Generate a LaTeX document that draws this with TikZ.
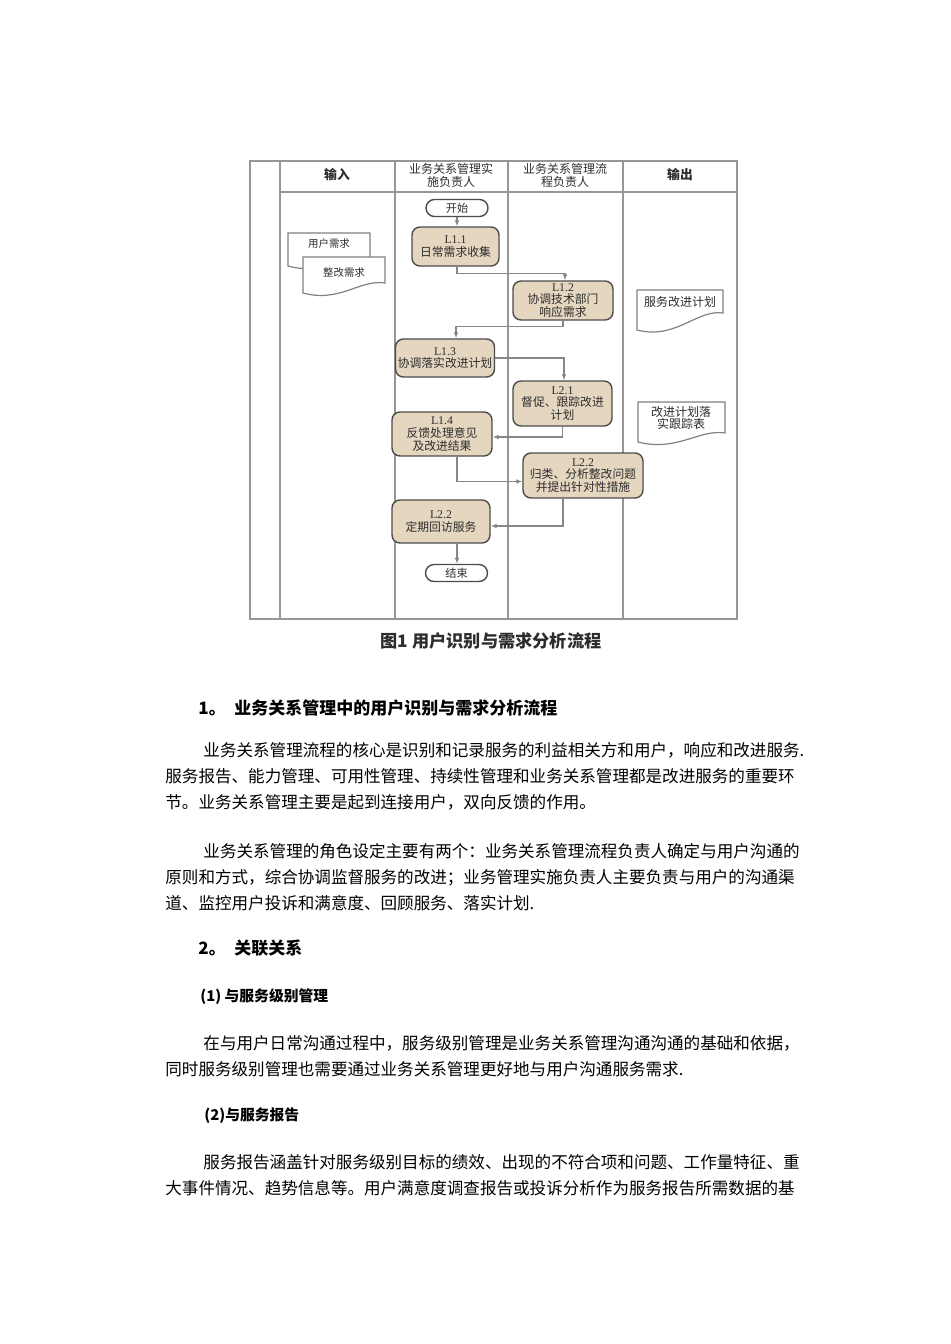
\documentclass[tikz,border=0pt]{standalone}
\usepackage{fontspec}
\usepackage{tikz}
\usetikzlibrary{arrows.meta,calc,shapes.misc}
\newfontfamily\cjk{Noto Sans CJK SC}
\newfontfamily\labfont{Liberation Serif}
\definecolor{tan}{RGB}{229,214,192}
\definecolor{lanegray}{RGB}{150,150,150}
\definecolor{wiregray}{RGB}{135,135,135}
\definecolor{ink}{RGB}{45,45,45}

\begin{document}
\begin{tikzpicture}[x=0.5pt,y=-0.5pt,
  lanes/.style={draw=lanegray,line width=1pt},
  proc/.style={draw=ink!85,fill=tan,rounded corners=4pt,line width=0.7pt,align=center,inner sep=0pt,text=ink,font=\cjk\fontsize{5.9}{6.4}\selectfont},
  term/.style={draw=ink!85,fill=white,rounded rectangle,line width=0.7pt,inner sep=0pt,minimum width=31pt,minimum height=8.5pt,text=ink,font=\cjk\fontsize{5.6}{6}\selectfont},
  flow/.style={draw=wiregray,line width=0.7pt,-{Latex[length=3pt,width=2.4pt]}},
  doc/.style={draw=ink!60,fill=white,line width=0.6pt},
  doctext/.style={inner sep=0pt,align=center,text=ink,font=\cjk\fontsize{6}{6.2}\selectfont},
  head/.style={inner sep=0pt,align=center,text=ink,font=\cjk\fontsize{6}{6.5}\selectfont},
  body/.style={anchor=base west,inner sep=0pt,align=left,text=black,font=\cjk\fontsize{8.28}{12.8}\selectfont},
  title/.style={anchor=west,inner sep=0pt,text=black,font=\cjk\bfseries\fontsize{8.5}{9}\selectfont},
  subtitle/.style={anchor=west,inner sep=0pt,text=black,font=\cjk\bfseries\fontsize{7.4}{8}\selectfont}]
\fill[white] (0,0) rectangle (950,1344);
\useasboundingbox (0,0) rectangle (950,1344);

\draw[lanes] (250,161) rectangle (737,619);
\draw[lanes] (280,192) -- (737,192);
\draw[lanes] (280,161) -- (280,619);
\draw[lanes] (395,161) -- (395,619);
\draw[lanes] (508,161) -- (508,619);
\draw[lanes] (623,161) -- (623,619);

\node[head,font=\cjk\bfseries\fontsize{6.4}{7}\selectfont] (hin) at (337,175) {输入};
\node[head] (hexec) at (451,175) {业务关系管理实\\施负责人};
\node[head] (hproc) at (565,175) {业务关系管理流\\程负责人};
\node[head,font=\cjk\bfseries\fontsize{6.4}{7}\selectfont] (hout) at (680,175) {输出};

\draw[doc] (288,233) -- (370,233) -- (370,258) .. controls (345,254) and (325,276) .. (288,266) -- cycle;
\node[doctext,font=\cjk\fontsize{5.2}{6}\selectfont] (in1) at (329,244) {用户需求};
\draw[doc] (303,257) -- (385,257) -- (385,283) .. controls (360,279) and (340,303) .. (303,293) -- cycle;
\node[doctext,font=\cjk\fontsize{5.2}{6}\selectfont] (in2) at (344,273) {整改需求};

\draw[doc] (637,290) -- (723,290) -- (723,313) .. controls (697,309) and (676,340) .. (637,330) -- cycle;
\node[doctext] (out1) at (680,302) {服务改进计划};
\draw[doc] (638,402) -- (725,402) -- (725,433) .. controls (699,429) and (677,452) .. (638,442) -- cycle;
\node[doctext] (out2) at (681,418) {改进计划落\\实跟踪表};

\node[term] (start) at (457,208) {开始};
\node[proc,minimum width=43.5pt,minimum height=19.5pt] (L11) at (455.5,246.5) {{\labfont L1.1}\\日常需求收集};
\node[proc,minimum width=50pt,minimum height=19.5pt] (L12) at (563,300.5) {{\labfont L1.2}\\协调技术部门\\响应需求};
\node[proc,minimum width=49.5pt,minimum height=19pt] (L13) at (445,358) {{\labfont L1.3}\\协调落实改进计划};
\node[proc,minimum width=49.5pt,minimum height=22.5pt] (L21) at (562.5,403.5) {{\labfont L2.1}\\督促、跟踪改进\\计划};
\node[proc,minimum width=50pt,minimum height=22pt] (L14) at (442,434) {{\labfont L1.4}\\反馈处理意见\\及改进结果};
\node[proc,minimum width=60pt,minimum height=22.5pt] (L22a) at (583,475.5) {{\labfont L2.2}\\归类、分析整改问题\\并提出针对性措施};
\node[proc,minimum width=49pt,minimum height=21.5pt] (L22b) at (441,521.5) {{\labfont L2.2}\\定期回访服务};
\node[term] (end) at (456.5,573) {结束};
\coordinate (drop) at ($(L22b.south)+(16,0)$);

\draw[flow] (start.south) -- (start.south |- L11.north);
\draw[flow] ($(L11.south)+(1.5,0)$) -- ++(0,7) -| ($(L12.north)+(2,0)$);
\draw[flow] (L12.south) -- ++(0,6) -| ($(L13.north)+(11,0)$);
\draw[flow] (L13.east) -| ($(L21.north)+(1.5,0)$);
\draw[flow] (L21.south) |- ($(L14.east)+(0,3)$);
\draw[flow] ($(L14.south)+(15,0)$) |- ($(L22a.west)+(0,6)$);
\draw[flow] ($(L22a.south)+(-20,0)$) |- ($(L22b.east)+(0,4.5)$);
\draw[flow] (drop) -- (drop |- end.north);

\node[inner sep=0pt,text=ink,font=\cjk\bfseries\fontsize{8.6}{9}\selectfont] (caption) at (491,641) {图1 用户识别与需求分析流程};

\node[title] (sec1) at (198,708) {1。\hspace{0.5em}业务关系管理中的用户识别与需求分析流程};
\node[body] (par1) at (165,808) {\hspace*{2.3em}业务关系管理流程的核心是识别和记录服务的利益相关方和用户，响应和改进服务.\\
服务报告、能力管理、可用性管理、持续性管理和业务关系管理都是改进服务的重要环\\
节。业务关系管理主要是起到连接用户，双向反馈的作用。};
\node[body] (par2) at (165,909) {\hspace*{2.3em}业务关系管理的角色设定主要有两个：业务关系管理流程负责人确定与用户沟通的\\
原则和方式，综合协调监督服务的改进；业务管理实施负责人主要负责与用户的沟通渠\\
道、监控用户投诉和满意度、回顾服务、落实计划.};
\node[title] (sec2) at (198,948) {2。\hspace{0.5em}关联关系};
\node[subtitle] (sub1) at (200,997) {(1) 与服务级别管理};
\node[body] (par3) at (165,1075) {\hspace*{2.3em}在与用户日常沟通过程中，服务级别管理是业务关系管理沟通沟通的基础和依据，\\
同时服务级别管理也需要通过业务关系管理更好地与用户沟通服务需求.};
\node[subtitle] (sub2) at (204,1116) {(2)与服务报告};
\node[body] (par4) at (165,1194) {\hspace*{2.3em}服务报告涵盖针对服务级别目标的绩效、出现的不符合项和问题、工作量特征、重\\
大事件情况、趋势信息等。用户满意度调查报告或投诉分析作为服务报告所需数据的基};
\end{tikzpicture}
\end{document}
